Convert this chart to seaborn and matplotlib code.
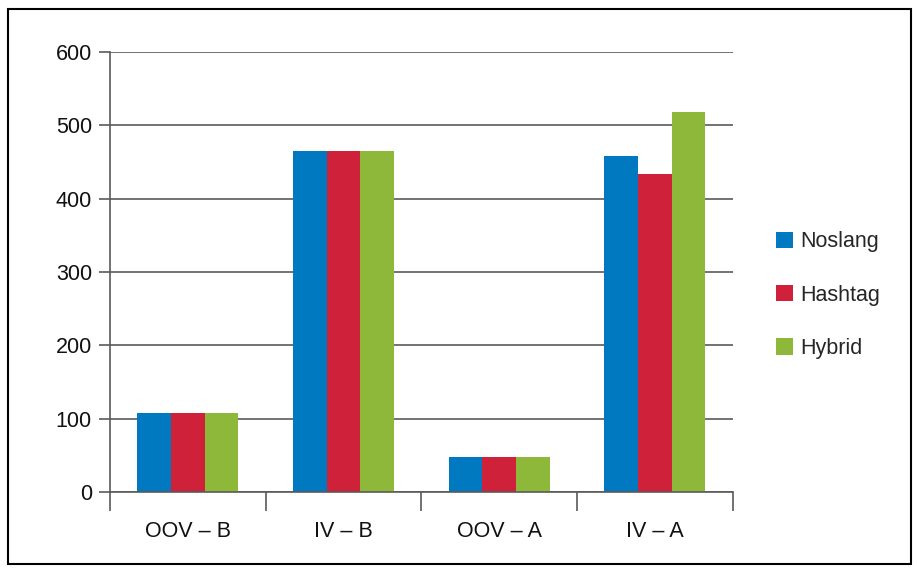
import matplotlib
matplotlib.use("Agg")
import matplotlib.pyplot as plt
import seaborn as sns
import pandas as pd
from matplotlib.patches import Rectangle

categories = ["OOV – B", "IV – B", "OOV – A", "IV – A"]
series = ["Noslang", "Hashtag", "Hybrid"]
noslang = [108, 465, 48, 458]
hashtag = [108, 465, 48, 434]
hybrid = [108, 465, 48, 518]
colors = ["#0079C1", "#D0213A", "#8DB83A"]

rows = []
for name, vals in zip(series, [noslang, hashtag, hybrid]):
    for c, v in zip(categories, vals):
        rows.append({"cat": c, "series": name, "value": v})
df = pd.DataFrame(rows)

sns.set_theme(style="white")
plt.rcParams['font.family'] = ['Liberation Sans', 'DejaVu Sans']

fig = plt.figure(figsize=(9.17, 5.71), dpi=100)
ax = fig.add_axes([0.120, 0.138, 0.679, 0.771])

sns.barplot(data=df, x="cat", y="value", hue="series", palette=colors,
            width=0.65, ax=ax, saturation=1, edgecolor="none", legend=True)

ax.set_ylim(0, 600)
ax.set_xlim(-0.5, 3.5)
ax.set_yticks(range(0, 601, 100))
ax.yaxis.grid(True, color="#5a5a5a", linewidth=1.2)
ax.set_axisbelow(True)
ax.set_xlabel("")
ax.set_ylabel("")
for s in ["top", "right"]:
    ax.spines[s].set_visible(False)
for s in ["left", "bottom"]:
    ax.spines[s].set_color("#5a5a5a")
    ax.spines[s].set_linewidth(1.2)

ax.tick_params(axis="y", which="major", length=8, width=1.2, color="#5a5a5a",
               left=True, labelsize=15.5, pad=5, labelcolor="#111111")
ax.tick_params(axis="x", which="major", length=0, labelsize=15.5, pad=21,
               labelcolor="#111111")
ax.set_xticks([-0.5, 0.5, 1.5, 2.5, 3.5], minor=True)
ax.tick_params(axis="x", which="minor", length=14, width=1.2, color="#5a5a5a",
               bottom=True)

handles, labels = ax.get_legend_handles_labels()
leg = ax.legend(handles, labels, loc="center left",
                bbox_to_anchor=(0.837, 0.483), bbox_transform=fig.transFigure,
                frameon=False, fontsize=15.5, handlelength=0.8, handleheight=0.8,
                handletextpad=0.3, labelspacing=1.5, borderaxespad=0)

fig.patches.append(Rectangle((0.009, 0.012), 0.985, 0.973, transform=fig.transFigure,
                             fill=False, edgecolor="black", linewidth=1.5))

fig.savefig("out.png", dpi=100)
